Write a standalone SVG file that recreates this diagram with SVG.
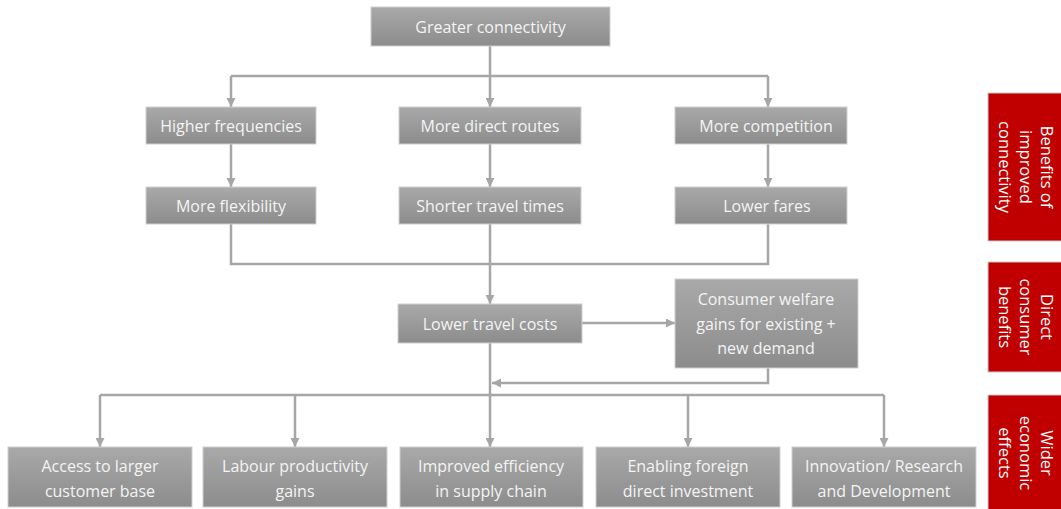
<svg xmlns="http://www.w3.org/2000/svg" width="1061" height="509" viewBox="0 0 1061 509">
<style>
.box{fill:url(#g);stroke:#cfcfcf;stroke-width:1}
.red{fill:#c00000;stroke:#c8c8c8;stroke-width:1}
.t{font-family:"Open Sans","Liberation Sans",sans-serif;font-size:16px;fill:#f4f4f4;text-anchor:middle}
.r{font-size:16.5px;fill:#ffffff}
.c{fill:none;stroke:#a6a6a6;stroke-width:2.5}
</style>
<defs>
<linearGradient id="g" x1="0" y1="0" x2="0" y2="1">
<stop offset="0" stop-color="#a9a9a9"/>
<stop offset="1" stop-color="#8c8c8c"/>
</linearGradient>
<marker id="a" viewBox="0 0 10 10" refX="10" refY="5" markerWidth="9" markerHeight="9" markerUnits="userSpaceOnUse" orient="auto">
<path d="M0,0 L10,5 L0,10 z" fill="#a6a6a6"/>
</marker>
</defs>
<g id="connectors">
<path class="c" d="M490,46 V76"/>
<path class="c" d="M231,76 H768"/>
<path class="c" d="M231,76 V107" marker-end="url(#a)"/>
<path class="c" d="M490,76 V107" marker-end="url(#a)"/>
<path class="c" d="M768,76 V107" marker-end="url(#a)"/>
<path class="c" d="M231,144 V187" marker-end="url(#a)"/>
<path class="c" d="M490,144 V187" marker-end="url(#a)"/>
<path class="c" d="M768,144 V187" marker-end="url(#a)"/>
<path class="c" d="M231,224 V264 H768 V224"/>
<path class="c" d="M490,224 V304" marker-end="url(#a)"/>
<path class="c" d="M582,323 H675" marker-end="url(#a)"/>
<path class="c" d="M768,368 V383 H492" marker-end="url(#a)"/>
<path class="c" d="M490,343 V395"/>
<path class="c" d="M100,395 H884"/>
<path class="c" d="M100,395 V447" marker-end="url(#a)"/>
<path class="c" d="M295,395 V447" marker-end="url(#a)"/>
<path class="c" d="M490,395 V447" marker-end="url(#a)"/>
<path class="c" d="M688,395 V447" marker-end="url(#a)"/>
<path class="c" d="M884,395 V447" marker-end="url(#a)"/>
</g>
<g id="greater-connectivity"><rect class="box" x="371" y="7" width="239" height="39"/><text class="t" x="490.5" y="33">Greater connectivity</text></g>
<g id="higher-frequencies"><rect class="box" x="146" y="107" width="170" height="37"/><text class="t" x="231" y="131.5">Higher frequencies</text></g>
<g id="more-direct-routes"><rect class="box" x="399" y="107" width="182" height="37"/><text class="t" x="490" y="131.5">More direct routes</text></g>
<g id="more-competition"><rect class="box" x="675" y="107" width="172" height="37"/><text class="t" x="766" y="131.5">More competition</text></g>
<g id="more-flexibility"><rect class="box" x="146" y="187" width="170" height="37"/><text class="t" x="231" y="211.5">More flexibility</text></g>
<g id="shorter-travel-times"><rect class="box" x="399" y="187" width="182" height="37"/><text class="t" x="490" y="211.5">Shorter travel times</text></g>
<g id="lower-fares"><rect class="box" x="675" y="187" width="172" height="37"/><text class="t" x="767" y="211.5">Lower fares</text></g>
<g id="lower-travel-costs"><rect class="box" x="398" y="304" width="184" height="39"/><text class="t" x="490" y="329.5">Lower travel costs</text></g>
<g id="consumer-welfare"><rect class="box" x="675" y="279" width="183" height="89"/><text class="t" x="766"><tspan x="766" y="305">Consumer welfare</tspan><tspan x="766" y="330">gains for existing +</tspan><tspan x="766" y="354">new demand</tspan></text></g>
<g id="access-customer-base"><rect class="box" x="8" y="447" width="184" height="60"/><text class="t"><tspan x="100" y="472">Access to larger</tspan><tspan x="100" y="497">customer base</tspan></text></g>
<g id="labour-productivity"><rect class="box" x="203" y="447" width="184" height="60"/><text class="t"><tspan x="295" y="472">Labour productivity</tspan><tspan x="295" y="497">gains</tspan></text></g>
<g id="supply-chain"><rect class="box" x="400" y="447" width="183" height="60"/><text class="t"><tspan x="491" y="472">Improved efficiency</tspan><tspan x="491" y="497">in supply chain</tspan></text></g>
<g id="foreign-investment"><rect class="box" x="596" y="447" width="184" height="60"/><text class="t"><tspan x="688" y="472">Enabling foreign</tspan><tspan x="688" y="497">direct investment</tspan></text></g>
<g id="innovation"><rect class="box" x="792" y="447" width="184" height="60"/><text class="t"><tspan x="884" y="472">Innovation/ Research</tspan><tspan x="884" y="497">and Development</tspan></text></g>
<g id="label-benefits"><rect class="red" x="988" y="93" width="80" height="148"/><text class="t r" transform="translate(1026,167) rotate(90)"><tspan x="0" y="-15">Benefits of</tspan><tspan x="0" y="6">improved</tspan><tspan x="0" y="27">connectivity</tspan></text></g>
<g id="label-direct"><rect class="red" x="988" y="262" width="80" height="110"/><text class="t r" transform="translate(1026,317) rotate(90)"><tspan x="0" y="-15">Direct</tspan><tspan x="0" y="6">consumer</tspan><tspan x="0" y="27">benefits</tspan></text></g>
<g id="label-wider"><rect class="red" x="988" y="395" width="80" height="120"/><text class="t r" transform="translate(1026,453) rotate(90)"><tspan x="0" y="-15">Wider</tspan><tspan x="0" y="6">economic</tspan><tspan x="0" y="27">effects</tspan></text></g>
</svg>
